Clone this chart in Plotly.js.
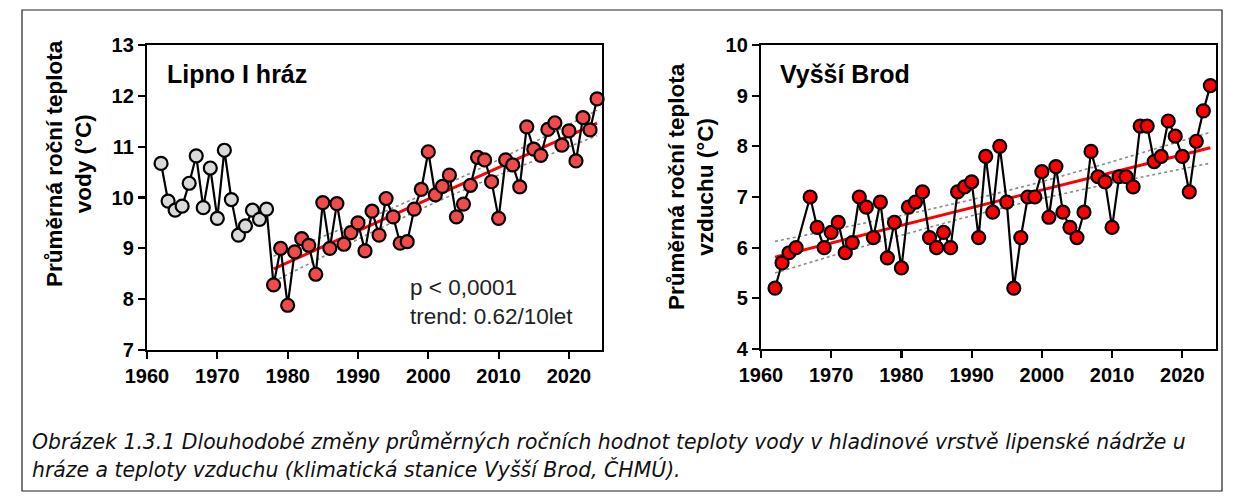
<!DOCTYPE html>
<html><head><meta charset="utf-8">
<script src="https://cdn.plot.ly/plotly-3.0.1.min.js"></script>
<style>html,body{margin:0;padding:0;background:#fff}#chart{width:1237px;height:501px}</style>
</head><body><div id="chart"></div>
<script>
// ---- Data ----
const lipnoGrayYears = [1962,1963,1964,1965,1966,1967,1968,1969,1970,1971,1972,1973,1974,1975,1976,1977];
const lipnoGrayTemp = [10.67,9.93,9.75,9.83,10.28,10.82,9.80,10.58,9.59,10.93,9.96,9.26,9.44,9.75,9.57,9.77];
const lipnoRedYears = [1978,1979,1980,1981,1982,1983,1984,1985,1986,1987,1988,1989,1990,1991,1992,1993,1994,1995,1996,1997,1998,1999,2000,2001,2002,2003,2004,2005,2006,2007,2008,2009,2010,2011,2012,2013,2014,2015,2016,2017,2018,2019,2020,2021,2022,2023,2024];
const lipnoRedTemp = [8.28,9.00,7.88,8.93,9.19,9.06,8.49,9.90,9.00,9.88,9.08,9.31,9.50,8.95,9.73,9.26,9.98,9.62,9.10,9.13,9.77,10.16,10.90,10.05,10.22,10.44,9.62,9.87,10.24,10.79,10.74,10.31,9.59,10.74,10.64,10.21,11.39,10.95,10.83,11.34,11.47,11.03,11.31,10.72,11.57,11.33,11.94];
const brodYears = [1962,1963,1964,1965,1967,1968,1969,1970,1971,1972,1973,1974,1975,1976,1977,1978,1979,1980,1981,1982,1983,1984,1985,1986,1987,1988,1989,1990,1991,1992,1993,1994,1995,1996,1997,1998,1999,2000,2001,2002,2003,2004,2005,2006,2007,2008,2009,2010,2011,2012,2013,2014,2015,2016,2017,2018,2019,2020,2021,2022,2023,2024];
const brodTemp = [5.2,5.7,5.9,6.0,7.0,6.4,6.0,6.3,6.5,5.9,6.1,7.0,6.8,6.2,6.9,5.8,6.5,5.6,6.8,6.9,7.1,6.2,6.0,6.3,6.0,7.1,7.2,7.3,6.2,7.8,6.7,8.0,6.9,5.2,6.2,7.0,7.0,7.5,6.6,7.6,6.7,6.4,6.2,6.7,7.9,7.4,7.3,6.4,7.4,7.4,7.2,8.4,8.4,7.7,7.8,8.5,8.2,7.8,7.1,8.1,8.7,9.2];
const xTicks = [1960,1970,1980,1990,2000,2010,2020];
const titleLipno = "Lipno I hráz";
const titleBrod = "Vyšší Brod";
const yTitleLipno = "Průměrná roční teplota<br>vody (°C)";
const yTitleBrod = "Průměrná roční teplota<br>vzduchu (°C)";
const statsText = "p < 0,0001<br>trend: 0.62/10let";
const captionLine1 = "Obrázek 1.3.1 Dlouhodobé změny průměrných ročních hodnot teploty vody v hladinové vrstvě lipenské nádrže u";
const captionLine2 = "hráze a teploty vzduchu (klimatická stanice Vyšší Brod, ČHMÚ).";

// linear regression with 95% confidence band of the fitted line
function fit(xs, ys){
  const n = xs.length;
  const mx = xs.reduce((a,b)=>a+b,0)/n, my = ys.reduce((a,b)=>a+b,0)/n;
  let sxx=0, sxy=0;
  for(let i=0;i<n;i++){sxx+=(xs[i]-mx)**2; sxy+=(xs[i]-mx)*(ys[i]-my);}
  const b = sxy/sxx, a = my - b*mx;
  let sse=0; for(let i=0;i<n;i++){sse+=(ys[i]-a-b*xs[i])**2;}
  const s = Math.sqrt(sse/(n-2)); const df=n-2; const t = 1.96 + 2.4/df;
  const yhat = xs.map(x=>a+b*x);
  const hw = xs.map(x=>t*s*Math.sqrt(1/n + (x-mx)**2/sxx));
  return {yhat, lo: yhat.map((v,i)=>v-hw[i]), hi: yhat.map((v,i)=>v+hw[i])};
}
const f1 = fit(lipnoRedYears, lipnoRedTemp);
const f2 = fit(brodYears, brodTemp);

const W=1237, H=501;
const px = v=>v/W, py = v=>1-v/H;

const lipnoAllYears = lipnoGrayYears.concat(lipnoRedYears);
const lipnoAllTemp = lipnoGrayTemp.concat(lipnoRedTemp);

const dotLine = {color:'#8a8a8a', width:1.6, dash:'dot'};
const traces = [
  {x:lipnoRedYears, y:f1.lo, mode:'lines', line:dotLine, xaxis:'x', yaxis:'y', hoverinfo:'skip'},
  {x:lipnoRedYears, y:f1.hi, mode:'lines', line:dotLine, xaxis:'x', yaxis:'y', hoverinfo:'skip'},
  {x:lipnoRedYears, y:f1.yhat, mode:'lines', line:{color:'#ff0000', width:3}, xaxis:'x', yaxis:'y'},
  {x:lipnoAllYears, y:lipnoAllTemp, mode:'lines', line:{color:'#000', width:2.2}, xaxis:'x', yaxis:'y', cliponaxis:false},
  {x:lipnoGrayYears, y:lipnoGrayTemp, mode:'markers', marker:{size:13, color:'#d9d9d9', line:{color:'#000', width:2.2}}, xaxis:'x', yaxis:'y', cliponaxis:false},
  {x:lipnoRedYears, y:lipnoRedTemp, mode:'markers', marker:{size:13, color:'#f04a4a', line:{color:'#000', width:2.2}}, xaxis:'x', yaxis:'y', cliponaxis:false},
  {x:brodYears, y:f2.lo, mode:'lines', line:dotLine, xaxis:'x2', yaxis:'y2', hoverinfo:'skip'},
  {x:brodYears, y:f2.hi, mode:'lines', line:dotLine, xaxis:'x2', yaxis:'y2', hoverinfo:'skip'},
  {x:brodYears, y:f2.yhat, mode:'lines', line:{color:'#ff0000', width:3}, xaxis:'x2', yaxis:'y2'},
  {x:brodYears, y:brodTemp, mode:'lines+markers', line:{color:'#000', width:2.2}, marker:{size:13, color:'#ff0000', line:{color:'#000', width:2.2}}, xaxis:'x2', yaxis:'y2', cliponaxis:false}
];

const FAM = '"Liberation Sans", Arial, sans-serif';
const tickFont = {family:FAM, size:20, color:'#000', weight:'bold'};
const axisCommon = {showgrid:false, zeroline:false, showline:true, mirror:true, linecolor:'#000', linewidth:2.2,
  ticks:'outside', ticklen:7, tickwidth:2.2, tickcolor:'#000', tickfont:tickFont, fixedrange:true};

const layout = {
  width:W, height:H, margin:{l:0,r:0,t:0,b:0}, paper_bgcolor:'#fff', plot_bgcolor:'#fff', showlegend:false,
  font:{family:FAM, color:'#000'},
  xaxis:Object.assign({}, axisCommon, {domain:[px(147), px(602)], range:[1960, 2024.7], tickvals:xTicks, anchor:'y'}),
  yaxis:Object.assign({}, axisCommon, {domain:[py(350), py(45)], range:[7,13], dtick:1, tick0:7, anchor:'x'}),
  xaxis2:Object.assign({}, axisCommon, {domain:[px(761), px(1216)], range:[1960, 2024.8], tickvals:xTicks, anchor:'y2'}),
  yaxis2:Object.assign({}, axisCommon, {domain:[py(349), py(45)], range:[4,10], dtick:1, tick0:4, anchor:'x2'}),
  annotations:[
    {text:titleLipno, xref:'paper', yref:'paper', x:px(165), y:py(74), xanchor:'left', yanchor:'middle', showarrow:false,
     font:{size:25, weight:'bold', family:FAM}},
    {text:titleBrod, xref:'paper', yref:'paper', x:px(778), y:py(74), xanchor:'left', yanchor:'middle', showarrow:false,
     font:{size:25, weight:'bold', family:FAM}},
    {text:yTitleLipno, xref:'paper', yref:'paper', x:px(69), y:py(164), xanchor:'center', yanchor:'middle', showarrow:false, textangle:-90,
     font:{size:22.5, weight:'bold', family:FAM}},
    {text:yTitleBrod, xref:'paper', yref:'paper', x:px(691), y:py(187), xanchor:'center', yanchor:'middle', showarrow:false, textangle:-90,
     font:{size:22.5, weight:'bold', family:FAM}},
    {text:statsText, xref:'paper', yref:'paper', x:px(408), y:py(302), xanchor:'left', yanchor:'middle', align:'left', showarrow:false,
     font:{size:22.5, family:FAM, color:'#222'}},
    {text:captionLine1, xref:'paper', yref:'paper', x:px(30), y:py(441), xanchor:'left', yanchor:'middle', showarrow:false,
     font:{size:20.4, style:'italic', family:'"DejaVu Sans", sans-serif', color:'#111'}},
    {text:captionLine2, xref:'paper', yref:'paper', x:px(30), y:py(469), xanchor:'left', yanchor:'middle', showarrow:false,
     font:{size:20.4, style:'italic', family:'"DejaVu Sans", sans-serif', color:'#111'}}
  ],
  shapes:[
    {type:'rect', xref:'paper', yref:'paper', x0:px(22), x1:px(1222), y0:py(491), y1:py(10), line:{color:'#222', width:1.2}, fillcolor:'rgba(0,0,0,0)', layer:'below'}
  ]
};

Plotly.newPlot('chart', traces, layout, {staticPlot:true, displayModeBar:false});
</script>
</body></html>
